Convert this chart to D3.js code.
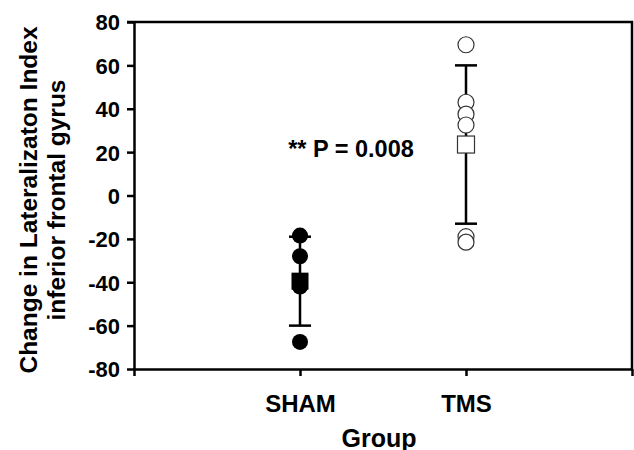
<!DOCTYPE html>
<html>
<head>
<meta charset="utf-8">
<script src="https://cdn.jsdelivr.net/npm/d3@7"></script>
<style>
  body { margin: 0; background: #fff; }
  svg { display: block; }
  text { font-family: "Liberation Sans", Arial, sans-serif; font-weight: bold; fill: #000; }
</style>
</head>
<body>
<svg width="634" height="450"></svg>
<script>
// data
var groups = ["SHAM", "TMS"]
var shamPoints = [-18.5, -28, -42, -67.5]
var tmsPoints = [69.5, 43, 37.5, 32.5, -19, -21.5]
var means = [-39.5, 23.5]
var sds = [20.5, 36.5]
var yTicks = [-80, -60, -40, -20, 0, 20, 40, 60, 80]

var svg = d3.select("svg")
var plotL = 134, plotR = 632, plotT = 22, plotB = 369

var x = d3.scaleLinear().domain([0, 3]).range([plotL, plotR])
var y = d3.scaleLinear().domain([-80, 80]).range([plotB, plotT])

// frame top + right
svg.append("path")
  .attr("d", "M" + (plotL - 7) + "," + plotT + "H" + plotR + "V" + plotB)
  .attr("fill", "none")
  .attr("stroke", "#000")
  .attr("stroke-width", 2.5)

// y axis (plain hyphen for negatives, like the original)
var yAxis = svg.append("g")
  .attr("transform", "translate(" + plotL + ",0)")
  .call(d3.axisLeft(y).tickValues(yTicks).tickSize(7).tickPadding(7).tickSizeOuter(0)
    .tickFormat(function(d) { return String(d) }))
yAxis.select(".domain").attr("stroke-width", 2.5)
yAxis.selectAll(".tick line").attr("stroke-width", 2.5)
yAxis.selectAll("text").style("font-size", "22px").attr("dy", "0.36em")

// x axis
var xAxis = svg.append("g")
  .attr("transform", "translate(0," + plotB + ")")
  .call(d3.axisBottom(x).tickValues([0, 1, 2, 3]).tickSize(7).tickPadding(19).tickSizeOuter(0)
    .tickFormat(function(d) { return groups[d - 1] || "" }))
xAxis.select(".domain").attr("stroke-width", 2.5)
xAxis.selectAll(".tick line").attr("stroke-width", 2.5)
xAxis.selectAll("text").style("font-size", "24px")

// error bars
var capW = 11
groups.forEach(function(g, i) {
  var cx = x(i + 1)
  var hi = means[i] + sds[i], lo = means[i] - sds[i]
  svg.append("line").attr("x1", cx).attr("x2", cx).attr("y1", y(hi)).attr("y2", y(lo))
    .attr("stroke", "#000").attr("stroke-width", 2.5)
  ;[hi, lo].forEach(function(v) {
    svg.append("line").attr("x1", cx - capW).attr("x2", cx + capW).attr("y1", y(v)).attr("y2", y(v))
      .attr("stroke", "#000").attr("stroke-width", 2.5)
  })
})

// individual points
svg.selectAll(".sham").data(shamPoints).enter().append("circle")
  .attr("cx", x(1)).attr("cy", function(d) { return y(d) }).attr("r", 8)
  .attr("fill", "#000")

svg.selectAll(".tms").data(tmsPoints).enter().append("circle")
  .attr("cx", x(2)).attr("cy", function(d) { return y(d) }).attr("r", 8)
  .attr("fill", "#fff").attr("stroke", "#333").attr("stroke-width", 1.2)

// means as squares
var sq = 17
svg.append("rect").attr("x", x(1) - sq / 2).attr("y", y(means[0]) - sq / 2)
  .attr("width", sq).attr("height", sq).attr("fill", "#000")
svg.append("rect").attr("x", x(2) - sq / 2).attr("y", y(means[1]) - sq / 2)
  .attr("width", sq).attr("height", sq).attr("fill", "#fff").attr("stroke", "#333").attr("stroke-width", 1.2)

// annotation
svg.append("text").attr("x", 351).attr("y", 157).attr("text-anchor", "middle")
  .style("font-size", "23.5px").text("** P = 0.008")

// axis titles
svg.append("text").attr("transform", "translate(37,200) rotate(-90)").attr("text-anchor", "middle")
  .style("font-size", "24.5px").text("Change in Lateralizaton Index")
svg.append("text").attr("transform", "translate(65,200) rotate(-90)").attr("text-anchor", "middle")
  .style("font-size", "24.5px").text("inferior frontal gyrus")
svg.append("text").attr("x", 379).attr("y", 447).attr("text-anchor", "middle")
  .style("font-size", "25px").text("Group")
</script>
</body>
</html>
